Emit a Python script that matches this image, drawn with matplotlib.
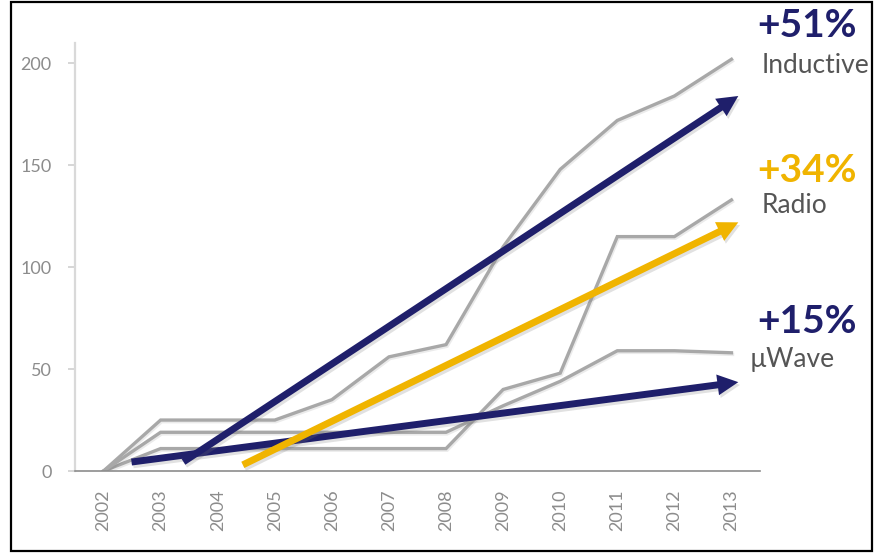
import matplotlib
matplotlib.use("Agg")
import matplotlib.pyplot as plt
import matplotlib.patheffects as pe
from matplotlib.patches import FancyArrowPatch, Rectangle

plt.rcParams["font.family"] = ["Lato", "DejaVu Sans"]

# Yearly series
years = ["2002", "2003", "2004", "2005", "2006", "2007",
         "2008", "2009", "2010", "2011", "2012", "2013"]
inductive = [0, 25, 25, 25, 35, 56, 62, 110, 148, 172, 184, 202]
radio = [0, 11, 11, 11, 11, 11, 11, 40, 48, 115, 115, 133]
uwave = [0, 19, 19, 19, 19, 19, 19, 32, 44, 59, 59, 58]

# Trend arrows: (start year index, start value) -> (end year index, end value)
trend_inductive = [(1.40, 4.5), (11.12, 184)]
trend_radio = [(2.44, 3), (11.12, 122)]
trend_uwave = [(0.49, 4.4), (11.12, 43.6)]

growth_labels = ["+51%", "+34%", "+15%"]
series_names = ["Inductive", "Radio", "\u00b5Wave"]

NAVY = "#1f1f6b"
GOLD = "#f0b400"
LINE_GRAY = "#a8a8a8"
TEXT_GRAY = "#8c8c8c"

W, H = 874, 554
fig = plt.figure(figsize=(W / 100, H / 100), dpi=100)
ax = fig.add_axes([75 / W, 83 / H, (760 - 75) / W, (471 - 43) / H])

x = list(range(len(years)))
line_fx = [pe.SimpleLineShadow(offset=(0.8, -1.2), alpha=0.08, shadow_color="k"), pe.Normal()]
for series in (inductive, radio, uwave):
    ax.plot(x, series, color=LINE_GRAY, lw=2.4, solid_joinstyle="miter",
            zorder=2, path_effects=line_fx)

arrow_fx = [pe.SimplePatchShadow(offset=(1.2, -2), shadow_rgbFace="#777777", alpha=0.22), pe.Normal()]
style = "simple,head_length=15,head_width=15,tail_width=5"
for (p0, p1), col, z in ((trend_uwave, NAVY, 3), (trend_inductive, NAVY, 4), (trend_radio, GOLD, 5)):
    arr = FancyArrowPatch(p0, p1, arrowstyle=style, mutation_scale=1,
                          color=col, lw=0, shrinkA=0, shrinkB=0, zorder=z,
                          path_effects=arrow_fx)
    ax.add_patch(arr)

ax.set_xlim(-0.5, len(years) - 0.5)
ax.set_ylim(0, 210)
ax.set_xticks(x)
ax.set_xticklabels(years, rotation=90)
ax.set_yticks([0, 50, 100, 150, 200])

for side in ("top", "right"):
    ax.spines[side].set_visible(False)
ax.spines["left"].set_color("#d9d9d9")
ax.spines["left"].set_linewidth(1.6)
ax.spines["bottom"].set_color("#8c8c8c")
ax.spines["bottom"].set_linewidth(1.2)

ax.tick_params(axis="x", length=0, pad=13, labelsize=13, labelcolor=TEXT_GRAY)
ax.tick_params(axis="y", length=5, width=1.2, color="#d0d0d0", pad=12,
               labelsize=13, labelcolor=TEXT_GRAY)

# Growth annotations on the right
def fx(px):
    return px / W

def fy(py):
    return 1 - py / H

pct_colors = [NAVY, GOLD, NAVY]
pct_base = [37, 182, 333]
name_base = [73, 213, 367]
name_left = [762, 762, 750]
for lab, col, yb in zip(growth_labels, pct_colors, pct_base):
    fig.text(fx(757), fy(yb), lab, color=col, fontsize=28, fontweight="bold",
             va="baseline", ha="left")
for name, yb, xl in zip(series_names, name_base, name_left):
    fig.text(fx(xl), fy(yb), name, color="#555555", fontsize=19,
             va="baseline", ha="left")

# Outer frame
fig.patches.append(Rectangle((11 / W, 3 / H), (872 - 11) / W, (551 - 2) / H,
                             transform=fig.transFigure, fill=False,
                             edgecolor="black", lw=1.6))

fig.savefig("out.png", dpi=100)
